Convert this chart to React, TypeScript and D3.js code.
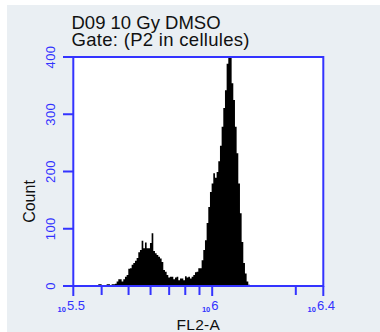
import React from 'react';
import * as d3 from 'd3';

const title1 = 'D09 10 Gy DMSO';
const title2 = 'Gate: (P2 in cellules)';
const xLabel = 'FL2-A';
const yLabel = 'Count';

// log10 exponents of x axis
const xDomainExp = [5.5, 6.4];
const xLabelExps = ['5.5', '6', '6.4'];
const xMinorTicks = [4e5, 5e5, 6e5, 7e5, 8e5, 9e5, 2e6];
const yTicks = [0, 100, 200, 300, 400];

// histogram bins (log10 of FL2-A), uniform in log space
const binStartExp = 5.59;
const binStepExp = 0.006;
const counts = [
  3, 3, 0, 1, 1, 3, 3, 1, 3, 3,
  4, 8, 12, 12, 8, 12, 16, 19, 30, 31,
  37, 40, 44, 49, 59, 63, 79, 66, 76, 66,
  66, 75, 92, 61, 57, 54, 51, 48, 42, 28,
  25, 19, 15, 16, 16, 12, 15, 16, 10, 13,
  13, 10, 17, 15, 16, 13, 16, 19, 24, 25,
  31, 31, 45, 63, 80, 110, 138, 164, 179, 197,
  189, 199, 218, 245, 278, 311, 342, 388, 410, 410,
  354, 325, 278, 232, 179, 127, 77, 40, 22, 8,
  2,
];

const BLUE = '#3333ff';
const FONT = 'Arial, "Liberation Sans", sans-serif';

export default function App() {
  const left = 73.3, right = 323.3, top = 57, bottom = 286;
  const x = d3.scaleLog().domain([10 ** xDomainExp[0], 10 ** xDomainExp[1]]).range([left, right]);
  const y = d3.scaleLinear().domain([0, 400]).range([bottom, top]).clamp(true);

  const pts: [number, number][] = counts.map((c, i) => [10 ** (binStartExp + i * binStepExp), c]);
  pts.push([10 ** (binStartExp + counts.length * binStepExp), 0]);
  const area = d3
    .area<[number, number]>()
    .x((d) => x(d[0]))
    .y0(y(0))
    .y1((d) => y(d[1]))
    .curve(d3.curveStepAfter);

  return (
    <svg width={380} height={332} style={{ position: 'absolute', left: 0, top: 0 }} fontFamily={FONT}>
      <rect x={0} y={0} width={380} height={332} fill="#ffffff" />
      <rect x={7} y={5} width={373} height={327} fill="#eaeff3" />
      <text x={71.5} y={28.5} fontSize={18.5} fill="#111">{title1}</text>
      <text x={71.5} y={46} fontSize={18.5} letterSpacing={0.3} fill="#111">{title2}</text>

      <rect x={left} y={top} width={right - left} height={bottom - top} fill="#ffffff" />
      <defs>
        <clipPath id="plotclip">
          <rect x={left} y={top} width={right - left} height={bottom - top} />
        </clipPath>
      </defs>
      <path d={area(pts) || ''} fill="#000" clipPath="url(#plotclip)" />
      <rect x={left} y={top} width={right - left} height={bottom - top} fill="none" stroke={BLUE} strokeWidth={2} />

      {/* y axis ticks */}
      {yTicks.map((t) => (
        <g key={'y' + t}>
          <line x1={63} x2={left} y1={y(t)} y2={y(t)} stroke={BLUE} strokeWidth={2} />
          <text
            transform={`translate(55,${y(t)}) rotate(-90)`}
            textAnchor="middle"
            fontSize={13}
            letterSpacing={0.5}
            fill={BLUE}
          >
            {t}
          </text>
        </g>
      ))}

      {/* x axis ticks */}
      {xLabelExps.map((e) => {
        const px = x(10 ** parseFloat(e));
        return (
          <g key={'x' + e}>
            <line x1={px} x2={px} y1={bottom} y2={296} stroke={BLUE} strokeWidth={2} />
            <text x={px - 2} y={310} textAnchor="middle" fill={BLUE}>
              <tspan fontSize={7.5} dy={2} fontWeight="bold">10</tspan>
              <tspan fontSize={13} dy={-2} dx={1}>{e}</tspan>
            </text>
          </g>
        );
      })}
      {xMinorTicks.map((v) => (
        <line key={'m' + v} x1={x(v)} x2={x(v)} y1={bottom} y2={295} stroke={BLUE} strokeWidth={2} />
      ))}

      <text x={(left + right) / 2} y={330} textAnchor="middle" fontSize={15.5} letterSpacing={0.3} fill="#111">{xLabel}</text>
      <text transform="translate(35,201.5) rotate(-90)" textAnchor="middle" fontSize={16} fill="#111">{yLabel}</text>
    </svg>
  );
}
